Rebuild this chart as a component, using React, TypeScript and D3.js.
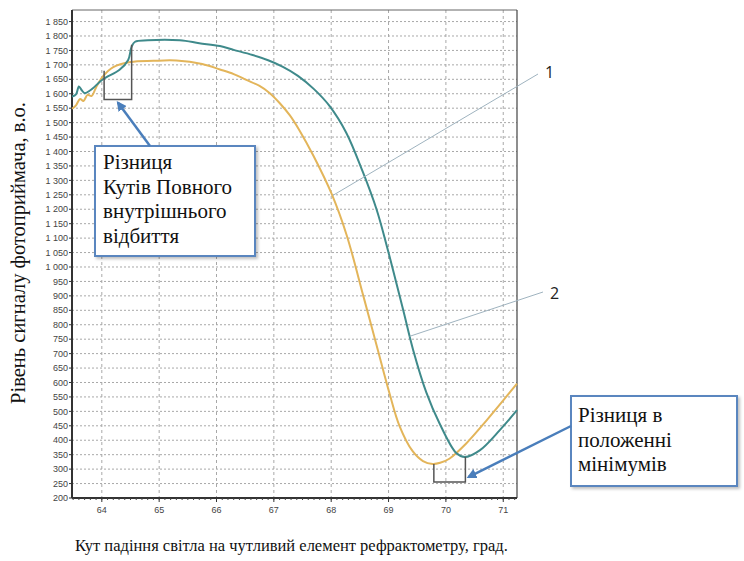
import React from 'react';
import * as d3 from 'd3';

// curve 1 (orange) – angle, signal
const angle1 = [63.48, 63.55, 63.62, 63.68, 63.75, 63.82, 63.9, 64.02, 64.2, 64.5, 64.9, 65.3, 65.75, 66.06, 66.3, 66.52, 66.75, 66.93, 67.1, 67.28, 67.45, 67.69, 68.01, 68.27, 68.56, 68.79, 69.02, 69.19, 69.42, 69.6, 69.77, 69.9, 70.06, 70.35, 70.71, 71.05, 71.24];
const signal1 = [1548, 1560, 1582, 1575, 1596, 1592, 1622, 1660, 1692, 1710, 1714, 1715, 1703, 1684, 1668, 1648, 1627, 1602, 1568, 1525, 1472, 1385, 1252, 1110, 900, 730, 560, 450, 362, 328, 318, 322, 336, 388, 469, 550, 596];

// curve 2 (teal)
const angle2 = [63.48, 63.55, 63.6, 63.65, 63.7, 63.8, 64.02, 64.31, 64.46, 64.52, 64.58, 64.8, 65.36, 65.7, 66.06, 66.3, 66.63, 66.9, 67.15, 67.42, 67.7, 67.97, 68.26, 68.55, 68.79, 68.96, 69.25, 69.43, 69.66, 69.89, 70.18, 70.33, 70.59, 70.94, 71.24];
const signal2 = [1590, 1598, 1625, 1612, 1602, 1612, 1650, 1683, 1717, 1763, 1780, 1785, 1785, 1775, 1765, 1752, 1734, 1716, 1694, 1662, 1616, 1558, 1466, 1330, 1200, 1080, 855, 712, 565, 458, 356, 342, 365, 435, 504];

const xTicks = [64, 65, 66, 67, 68, 69, 70, 71];
const yTicks = d3.range(200, 1851, 50);

const noteKpvv = ['Різниця', 'Кутів Повного', 'внутрішнього', 'відбиття'];
const noteMin = ['Різниця в', 'положенні', 'мінімумів'];

const yTitle = 'Рівень сигналу фотоприймача, в.о.';
const xTitle = 'Кут падіння світла на чутливий елемент рефрактометру, град.';

const W = 744;
const H = 561;
const plot = { left: 72, right: 517, top: 10, bottom: 498 };

const locale = d3.formatLocale({ decimal: ',', thousands: ' ', grouping: [3], currency: ['', ''] });
const fmt = locale.format(',d');

const serif = { fontFamily: '"Liberation Serif", "DejaVu Serif", serif' };
const sans = { fontFamily: '"Liberation Sans", Arial, sans-serif' };

export default function App() {
  const x = d3.scaleLinear().domain([63.48, 71.24]).range([plot.left, plot.right]);
  const y = d3.scaleLinear().domain([200, 1890]).range([plot.bottom, plot.top]);

  const line = d3.line<[number, number]>()
    .x(d => x(d[0]))
    .y(d => y(d[1]))
    .curve(d3.curveCatmullRom.alpha(0.5));

  const d1 = line(angle1.map((a, i) => [a, signal1[i]]))!;
  const d2 = line(angle2.map((a, i) => [a, signal2[i]]))!;

  const minorTicks = d3.range(63.5, 71.25, 0.1);

  // brackets
  const bx1 = x(64.04), bx2 = x(64.52), bBottom = y(1580);
  const mx1 = x(69.79), mx2 = x(70.34), mBottom = y(255);

  return (
    <svg width={W} height={H} style={{ position: 'absolute', left: 0, top: 0, background: '#fff', ...sans }}>
      <defs>
        <marker id="arr" viewBox="0 0 10 10" refX="8" refY="5" markerWidth="4" markerHeight="4" orient="auto">
          <path d="M0,0 L10,5 L0,10 z" fill="#4a7ebb" />
        </marker>
        <filter id="sh" x="-10%" y="-10%" width="130%" height="130%">
          <feDropShadow dx="2" dy="2" stdDeviation="1.5" floodColor="#000" floodOpacity="0.25" />
        </filter>
      </defs>

      {/* grid */}
      {yTicks.map(t => (
        <line key={'gy' + t} x1={plot.left} x2={plot.right} y1={y(t)} y2={y(t)}
          stroke="#a8a8a8" strokeWidth={1} strokeDasharray="2,2" />
      ))}
      {xTicks.map(t => (
        <line key={'gx' + t} x1={x(t)} x2={x(t)} y1={plot.top} y2={plot.bottom}
          stroke="#a8a8a8" strokeWidth={1} strokeDasharray="3,3" />
      ))}

      {/* frame */}
      <line x1={plot.left} x2={plot.right} y1={plot.top} y2={plot.top} stroke="#666" strokeWidth={1} />
      <line x1={plot.right} x2={plot.right} y1={plot.top} y2={plot.bottom} stroke="#444" strokeWidth={1.2} />
      <line x1={plot.left} x2={plot.left} y1={plot.top} y2={plot.bottom} stroke="#333" strokeWidth={2} />
      <line x1={plot.left} x2={plot.right} y1={plot.bottom} y2={plot.bottom} stroke="#333" strokeWidth={2} />

      {/* axis ticks */}
      {yTicks.map(t => (
        <g key={'ty' + t}>
          <line x1={plot.left - 3} x2={plot.left} y1={y(t)} y2={y(t)} stroke="#333" />
          <text x={plot.left - 4} y={y(t)} dy="0.35em" textAnchor="end" fontSize={9} fill="#444">{fmt(t)}</text>
        </g>
      ))}
      {minorTicks.map((t, i) => (
        <line key={'mt' + i} x1={x(t)} x2={x(t)} y1={plot.bottom} y2={plot.bottom + 2} stroke="#444" />
      ))}
      {xTicks.map(t => (
        <g key={'tx' + t}>
          <line x1={x(t)} x2={x(t)} y1={plot.bottom} y2={plot.bottom + 4} stroke="#333" />
          <text x={x(t)} y={plot.bottom + 15} textAnchor="middle" fontSize={9} fill="#444">{t}</text>
        </g>
      ))}

      {/* curves */}
      <path d={d1} fill="none" stroke="#e3b55a" strokeWidth={2} />
      <path d={d2} fill="none" stroke="#3f8a8b" strokeWidth={2} />

      {/* brackets */}
      <path d={`M${bx1},${y(1680)} V${bBottom} H${bx2} V${y(1770)}`} fill="none" stroke="#555" strokeWidth={1.5} />
      <path d={`M${mx1},${y(318)} V${mBottom} H${mx2} V${y(342)}`} fill="none" stroke="#555" strokeWidth={1.5} />

      {/* leader lines */}
      <line x1={538} y1={74} x2={x(68.03)} y2={y(1248)} stroke="#9fb3bf" strokeWidth={1} />
      <text x={545} y={78} fontSize={16} fill="#222" style={{ fontFamily: '"Open Sans", sans-serif' }}>1</text>
      <line x1={543} y1={292} x2={x(69.37)} y2={y(760)} stroke="#9fb3bf" strokeWidth={1} />
      <text x={550} y={299} fontSize={16} fill="#222" style={{ fontFamily: '"Open Sans", sans-serif' }}>2</text>

      {/* callout boxes */}
      <rect x={95} y={146} width={160} height={110} fill="#fff" stroke="#5a86bf" strokeWidth={2} filter="url(#sh)" />
      {noteKpvv.map((s, i) => (
        <text key={s} x={103} y={169 + i * 24.5} fontSize={21} style={serif} fill="#111">{s}</text>
      ))}
      <line x1={150} y1={146} x2={(bx1 + bx2) / 2} y2={bBottom + 3} stroke="#4a7ebb" strokeWidth={2.5} markerEnd="url(#arr)" />

      <rect x={571} y={396} width={166} height={90} fill="#fff" stroke="#5a86bf" strokeWidth={2} filter="url(#sh)" />
      {noteMin.map((s, i) => (
        <text key={s} x={578} y={422 + i * 24.5} fontSize={21} style={serif} fill="#111">{s}</text>
      ))}
      <line x1={571} y1={426} x2={mx2 + 3} y2={mBottom - 5} stroke="#4a7ebb" strokeWidth={2.5} markerEnd="url(#arr)" />

      {/* axis titles */}
      <text transform={`translate(25,253) rotate(-90)`} textAnchor="middle"
        fontSize={20.5} style={serif} fill="#111">{yTitle}</text>
      <text x={75} y={551} fontSize={16.5} style={serif} fill="#111">{xTitle}</text>
    </svg>
  );
}
